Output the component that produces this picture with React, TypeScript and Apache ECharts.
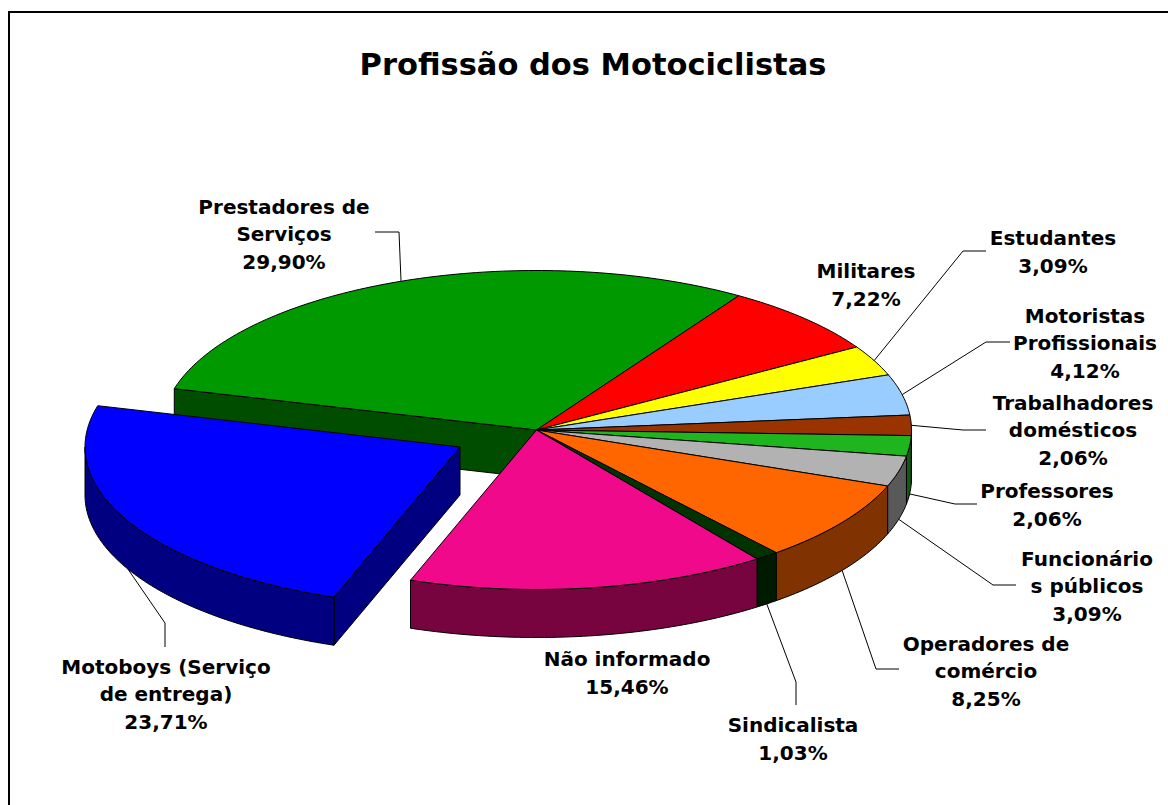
import React, { useEffect, useRef } from "react";
import * as echarts from "echarts";

const titleText = "Profissão dos Motociclistas";
const categories = [
  "Prestadores de\nServiços",
  "Militares",
  "Estudantes",
  "Motoristas\nProfissionais",
  "Trabalhadores\ndomésticos",
  "Professores",
  "Funcionário\ns públicos",
  "Operadores de\ncomércio",
  "Sindicalista",
  "Não informado",
  "Motoboys (Serviço\nde entrega)",
];
const values = [29.9, 7.22, 3.09, 4.12, 2.06, 2.06, 3.09, 8.25, 1.03, 15.46, 23.71];
const topColors = ["#009900", "#FF0000", "#FFFF00", "#99CCFF", "#993300", "#1FB51F", "#B2B2B2", "#FF6600", "#003300", "#F0098B", "#0000FF"];
const sideColors = ["#004D00", "#800000", "#808000", "#4D6680", "#4D1A00", "#105B10", "#595959", "#803300", "#001A00", "#78043F", "#000080"];
const exploded = [false, false, false, false, false, false, false, false, false, false, true];

// Pie geometry (projected ellipse)
const CX = 536.5;
const CY = 430;
const RX = 375;
const RY = 159.5;
const DEPTH = 48;
const FIRST_ANGLE = 285;
const EXPLODE_DX = -76.5;
const EXPLODE_DY = 17;

// Label layout: centre of the text block, and where the leader line bends and ends
const labelLayout = [
  { cx: 284, cy: 234, bend: [399, 232], end: [375, 232] },
  { cx: 866, cy: 285 },
  { cx: 1053, cy: 252, bend: [963, 251], end: [986, 251] },
  { cx: 1085, cy: 343, bend: [986, 342], end: [1010, 342] },
  { cx: 1073, cy: 430, bend: [963, 430], end: [986, 430] },
  { cx: 1047, cy: 505, bend: [955, 504], end: [977, 504] },
  { cx: 1087, cy: 586, bend: [993, 585], end: [1016, 585] },
  { cx: 986, cy: 671, bend: [876, 669], end: [899, 669] },
  { cx: 793, cy: 739, bend: [796, 682], end: [796, 705] },
  { cx: 627, cy: 673 },
  { cx: 166, cy: 694, bend: [165, 623], end: [165, 647] },
];

const total = values.reduce((a, b) => a + b, 0);
const starts: number[] = [];
values.reduce((acc, v, i) => {
  starts[i] = FIRST_ANGLE + (acc / total) * 360;
  return acc + v;
}, 0);
const endOf = (i: number) => starts[i] + (values[i] / total) * 360;
const rad = (a: number) => (a * Math.PI) / 180;
const originOf = (i: number) =>
  exploded[i] ? [CX + EXPLODE_DX, CY + EXPLODE_DY] : [CX, CY];
const rim = (i: number, a: number, dz = 0) => {
  const o = originOf(i);
  return [o[0] + RX * Math.sin(rad(a)), o[1] - RY * Math.cos(rad(a)) + dz];
};
const arc = (i: number, a0: number, a1: number, dz = 0) => {
  const n = Math.max(2, Math.ceil(Math.abs(a1 - a0)));
  const pts: number[][] = [];
  for (let k = 0; k <= n; k++) pts.push(rim(i, a0 + ((a1 - a0) * k) / n, dz));
  return pts;
};
const poly = (points: number[][], fill: string) => ({
  type: "polygon",
  shape: { points },
  style: { fill, stroke: "#000", lineWidth: 1, lineJoin: "round" },
  silent: true,
});

const radialWall = (i: number, a: number) => {
  const o = originOf(i);
  const p = rim(i, a);
  return poly(
    [o, p, [p[0], p[1] + DEPTH], [o[0], o[1] + DEPTH]],
    sideColors[i]
  );
};

const renderSlice = (_params: any, api: any) => {
  const i = api.value(0) as number;
  const n = values.length;
  const s = starts[i];
  const e = endOf(i);
  const children: any[] = [];
  const prev = (i + n - 1) % n;
  const next = (i + 1) % n;
  // radial faces that look at the viewer and are not hidden by a neighbour
  if (Math.sin(rad(s)) < 0 && (exploded[i] || exploded[prev])) children.push(radialWall(i, s));
  if (Math.sin(rad(e)) > 0 && (exploded[i] || exploded[next])) children.push(radialWall(i, e));
  // outer wall: only the front half of the rim
  const a0 = Math.max(s, 450);
  const a1 = Math.min(e, 630);
  if (a1 > a0) {
    children.push(
      poly([...arc(i, a0, a1), ...arc(i, a1, a0, DEPTH)], sideColors[i])
    );
  }
  children.push(poly([originOf(i), ...arc(i, s, e)], topColors[i]));
  return { type: "group", children };
};

const pct = (v: number) => v.toFixed(2).replace(".", ",") + "%";

const labelGraphics = categories.map((name, i) => ({
  type: "text",
  x: labelLayout[i].cx,
  y: labelLayout[i].cy,
  silent: true,
  z: 10,
  style: {
    text: `${name}\n${pct(values[i])}`,
    align: "center",
    verticalAlign: "middle",
    fill: "#000",
    font: 'bold 20px "DejaVu Sans"',
    lineHeight: 27.5,
  },
}));

const leaderGraphics = categories.flatMap((_n, i) => {
  const l = labelLayout[i] as any;
  if (!l.bend) return [];
  const mid = (starts[i] + endOf(i)) / 2;
  const norm = ((mid % 360) + 360) % 360;
  const front = norm > 90 && norm < 270;
  return [
    {
      type: "polyline",
      silent: true,
      z: 9,
      shape: { points: [rim(i, mid, front ? DEPTH : 0), l.bend, l.end] },
      style: { stroke: "#000", lineWidth: 1, fill: "none" },
    },
  ];
});

export default function App() {
  const ref = useRef<HTMLDivElement>(null);
  useEffect(() => {
    document.body.style.margin = "0";
    const chart = echarts.init(ref.current!, null, { renderer: "svg" });
    chart.setOption({
      animation: false,
      backgroundColor: "#fff",
      title: {
        text: titleText,
        left: 593,
        top: 49,
        padding: 0,
        textAlign: "center",
        textStyle: { color: "#000", fontFamily: "DejaVu Sans", fontWeight: "bold", fontSize: 30.5 },
      },
      graphic: [
        { type: "line", silent: true, shape: { x1: 8, y1: 12, x2: 1168, y2: 12 }, style: { stroke: "#000", lineWidth: 2 } },
        { type: "line", silent: true, shape: { x1: 9, y1: 11, x2: 9, y2: 805 }, style: { stroke: "#000", lineWidth: 2 } },
        ...leaderGraphics,
        ...labelGraphics,
      ],
      series: [
        {
          type: "custom",
          coordinateSystem: "none",
          silent: true,
          renderItem: renderSlice,
          data: values.map((v, i) => [i, v]),
        },
      ],
    });
    return () => chart.dispose();
  }, []);
  return <div ref={ref} style={{ width: 1168, height: 805, overflow: "hidden" }} />;
}
